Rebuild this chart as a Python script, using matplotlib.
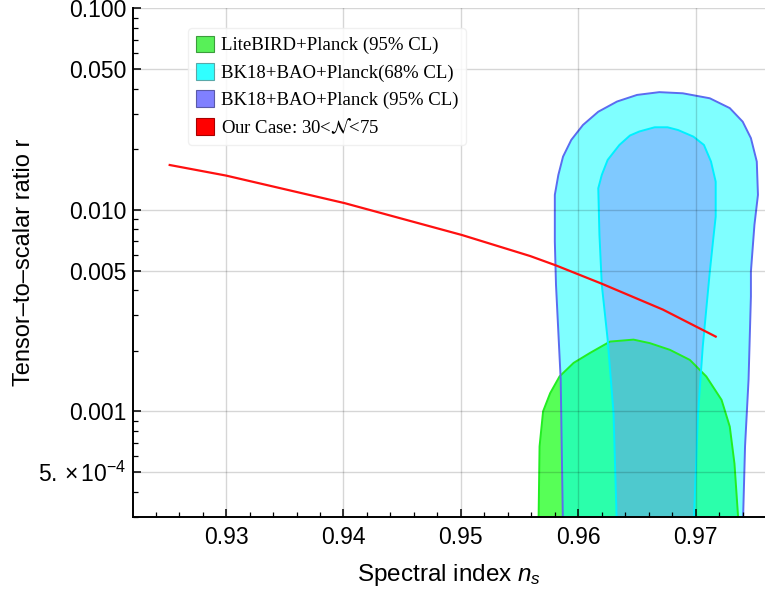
import matplotlib
matplotlib.use("Agg")
import matplotlib.pyplot as plt
from matplotlib.patches import Patch
from matplotlib.font_manager import FontProperties
from matplotlib.ticker import FixedLocator, MultipleLocator, LogLocator, NullFormatter

plt.rcParams["font.family"] = ["Liberation Sans", "DejaVu Sans"]
plt.rcParams["mathtext.fontset"] = "custom"
plt.rcParams["mathtext.rm"] = "Liberation Sans"
plt.rcParams["mathtext.it"] = "Liberation Sans:italic"
plt.rcParams["mathtext.bf"] = "Liberation Sans:bold"

# ---- data --------------------------------------------------------------
# model curve, 30 < N < 75
ns_model = [0.9252, 0.9300, 0.9401, 0.9501, 0.9559, 0.9581, 0.9620, 0.9672, 0.9717]
r_model  = [0.0167, 0.0148, 0.0108, 0.0075, 0.0059, 0.0053, 0.0043, 0.0032, 0.00235]

# BK18+BAO+Planck outer contour (open at the bottom)
ns_outer = [0.9587, 0.9585, 0.9581, 0.9580, 0.9580, 0.9583, 0.9587, 0.9594, 0.9604,
            0.9617, 0.9633, 0.9650, 0.9669, 0.9689, 0.9712, 0.9729, 0.9740, 0.9747,
            0.9752, 0.9753, 0.9750, 0.9747, 0.9747, 0.9745, 0.9742, 0.9740]
r_outer  = [2.5e-4, 0.00144, 0.00425, 0.00697, 0.01187, 0.01491, 0.01838, 0.02224, 0.0264,
            0.0307, 0.0345, 0.0372, 0.0384, 0.0379, 0.0358, 0.0320, 0.0274, 0.0227,
            0.01737, 0.01187, 0.00843, 0.00494, 0.00372, 0.00144, 6.7e-4, 2.5e-4]

# BK18+BAO+Planck inner contour
ns_inner = [0.9633, 0.9630, 0.9625, 0.9620, 0.9618, 0.9617, 0.9620, 0.9625, 0.9635,
            0.9644, 0.9652, 0.9665, 0.9676, 0.9685, 0.9698, 0.9707, 0.9713, 0.9717,
            0.9717, 0.9715, 0.9712, 0.9706, 0.9702, 0.9698]
r_inner  = [2.5e-4, 9.8e-4, 0.00227, 0.00425, 0.00752, 0.0128, 0.01491, 0.0177, 0.0210,
            0.0234, 0.0245, 0.0257, 0.0257, 0.0249, 0.0231, 0.0210, 0.01737, 0.0138,
            0.00926, 0.00724, 0.00494, 0.0021, 9.8e-4, 2.5e-4]

# LiteBIRD+Planck forecast contour
ns_lite = [0.9566, 0.9567, 0.9570, 0.9576, 0.9584, 0.9596, 0.9610, 0.9627, 0.9647,
           0.9661, 0.9678, 0.9695, 0.9709, 0.9722, 0.9729, 0.9733, 0.9737]
r_lite  = [2.5e-4, 6.7e-4, 0.001, 0.00123, 0.00149, 0.00174, 0.00195, 0.00222, 0.00227,
           0.00218, 0.00202, 0.0018, 0.00149, 0.00114, 8.4e-4, 5.5e-4, 2.5e-4]

legend_labels = ["LiteBIRD+Planck (95% CL)", "BK18+BAO+Planck(68% CL)",
                 "BK18+BAO+Planck (95% CL)", r"Our Case: 30<$\mathcal{N}$<75"]

xticks = [0.93, 0.94, 0.95, 0.96, 0.97]
yticks = [5e-4, 0.001, 0.005, 0.01, 0.05, 0.1]
ytick_labels = [r"$5.\,{\times}\,10^{-4}$", "0.001", "0.005", "0.010", "0.050", "0.100"]

# ---- figure --------------------------------------------------------------
fig = plt.figure(figsize=(7.65, 5.94), dpi=100)
ax = fig.add_axes([133.3 / 765, 1 - 516.7 / 594, 1 - 133.3 / 765, (516.7 - 8.4) / 594])
ax.set_yscale("log")

ax.fill(ns_lite, r_lite, color="#00ff00", alpha=0.66, lw=0, zorder=1)
ax.fill(ns_outer, r_outer, color="#00ffff", alpha=0.5, lw=0, zorder=1.2)
ax.fill(ns_inner, r_inner, color="#8080ff", alpha=0.42, lw=0, zorder=1.4)
ax.plot(ns_lite, r_lite, color="#22ee22", lw=1.4, zorder=1.6)
ax.plot(ns_outer, r_outer, color="#5b6cf0", lw=1.4, zorder=1.6)
ax.plot(ns_inner, r_inner, color="#00f0ff", lw=1.4, zorder=1.6)
ax.plot(ns_model, r_model, color="#ff1010", lw=1.6, zorder=3)

ax.set_xlim(0.9221, 0.9759)
ax.set_ylim(3e-4, 0.1)

ax.xaxis.set_major_locator(FixedLocator(xticks))
ax.xaxis.set_minor_locator(MultipleLocator(0.002))
ax.set_xticklabels([f"{v:.2f}" for v in xticks])
ax.yaxis.set_major_locator(FixedLocator(yticks))
ax.yaxis.set_minor_locator(LogLocator(base=10, subs=(2, 3, 4, 6, 7, 8, 9)))
ax.yaxis.set_minor_formatter(NullFormatter())
ax.set_yticklabels(ytick_labels)

ax.tick_params(which="major", direction="in", length=6, width=1.1, labelsize=16.5, pad=7)
ax.tick_params(which="minor", direction="in", length=3.5, width=0.9)
ax.tick_params(axis="y", which="major", pad=5)

ax.grid(True, which="major", color="k", alpha=0.16, lw=1.0)
ax.set_axisbelow(False)

for s in ("top", "right"):
    ax.spines[s].set_visible(False)
for s in ("left", "bottom"):
    ax.spines[s].set_linewidth(1.4)

ax.set_xlabel(r"Spectral index $n_s$", fontsize=17.5, labelpad=9)
ax.set_ylabel("Tensor\u2013to\u2013scalar ratio r", fontsize=17, labelpad=2)

handles = [
    Patch(facecolor="#58f058", edgecolor="#3c9c3c", lw=0.8),
    Patch(facecolor="#30ffff", edgecolor="#5aa8a8", lw=0.8),
    Patch(facecolor="#8080ff", edgecolor="#5a5aa8", lw=0.8),
    Patch(facecolor="#ff0000", edgecolor="#a80000", lw=0.8),
]
leg_font = FontProperties(family="Liberation Serif", size=13.5, math_fontfamily="stix")
leg = fig.legend(handles, legend_labels, loc="upper left",
                 bbox_to_anchor=(188 / 765, 1 - 28 / 594), bbox_transform=fig.transFigure,
                 borderaxespad=0, prop=leg_font, handlelength=1.0, handleheight=1.0,
                 handletextpad=0.36, labelspacing=0.45, borderpad=0.4,
                 frameon=True, fancybox=True, framealpha=0.85, edgecolor="#eeeeee")
leg.set_zorder(2)

fig.savefig("out.png", dpi=100)
